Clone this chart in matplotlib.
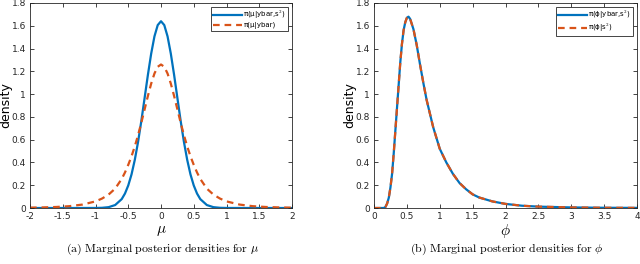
import numpy as np
import matplotlib
matplotlib.use("Agg")
import matplotlib.pyplot as plt

plt.rcParams["mathtext.fontset"] = "cm"

BLUE = "#0072BD"
RED  = "#D95319"
GREY = "#262626"

# ── (a) marginal posterior for mu ────────────────────────────────────────────
mu_x = [-2.0, -1.8, -1.6, -1.4, -1.2, -1.0, -0.9, -0.8, -0.7, -0.6, -0.55,
        -0.5, -0.45, -0.4, -0.35, -0.3, -0.25, -0.2, -0.15, -0.1, -0.05, 0.0,
        0.05, 0.1, 0.15, 0.2, 0.25, 0.3, 0.35, 0.4, 0.45, 0.5,
        0.55, 0.6, 0.7, 0.8, 0.9, 1.0, 1.2, 1.4, 1.6, 1.8, 2.0]
mu_full = [0.0, 0.0, 0.0, 0.0, 0.0001, 0.0003, 0.0017, 0.0073, 0.026, 0.078, 0.127,
           0.198, 0.295, 0.423, 0.581, 0.765, 0.967, 1.169, 1.355, 1.507, 1.606, 1.64,
           1.606, 1.507, 1.355, 1.169, 0.967, 0.765, 0.581, 0.423, 0.295, 0.198,
           0.127, 0.078, 0.026, 0.0073, 0.0017, 0.0003, 0.0001, 0.0, 0.0, 0.0, 0.0]
mu_ybar = [0.003, 0.005, 0.009, 0.016, 0.030, 0.058, 0.083, 0.118, 0.170, 0.255, 0.312,
           0.379, 0.454, 0.541, 0.640, 0.750, 0.867, 0.984, 1.092, 1.181, 1.240, 1.26,
           1.240, 1.181, 1.092, 0.984, 0.867, 0.750, 0.640, 0.541, 0.454, 0.379,
           0.312, 0.255, 0.170, 0.118, 0.083, 0.058, 0.030, 0.016, 0.009, 0.005, 0.003]

# ── (b) marginal posterior for phi ───────────────────────────────────────────
phi_x = [0.0, 0.1, 0.15, 0.175, 0.2, 0.225, 0.25, 0.275, 0.3, 0.325, 0.35,
         0.375, 0.4, 0.425, 0.45, 0.475, 0.5, 0.525, 0.55, 0.6, 0.65, 0.7,
         0.75, 0.8, 0.9, 1.0, 1.1, 1.2, 1.3, 1.4, 1.5, 1.6, 1.8, 2.0,
         2.25, 2.5, 3.0, 3.5, 4.0]
phi_full = [0.0, 0.0, 0.0, 0.01, 0.04, 0.09, 0.18, 0.30, 0.48, 0.68, 0.88,
            1.08, 1.28, 1.44, 1.56, 1.63, 1.67, 1.68, 1.66, 1.57, 1.43, 1.26,
            1.10, 0.95, 0.71, 0.52, 0.40, 0.30, 0.22, 0.165, 0.12, 0.092, 0.058, 0.036,
            0.020, 0.012, 0.005, 0.002, 0.001]
phi_s2 = [0.0, 0.0, 0.0, 0.01, 0.04, 0.09, 0.18, 0.30, 0.48, 0.68, 0.88,
          1.08, 1.28, 1.44, 1.56, 1.63, 1.67, 1.68, 1.66, 1.57, 1.43, 1.26,
          1.10, 0.95, 0.71, 0.52, 0.40, 0.30, 0.22, 0.165, 0.12, 0.092, 0.058, 0.036,
          0.020, 0.012, 0.005, 0.002, 0.001]

fig = plt.figure(figsize=(6.4, 2.64), dpi=100)
ax1 = fig.add_axes([30 / 640, 56 / 264, 262 / 640, 205 / 264])
ax2 = fig.add_axes([374 / 640, 56 / 264, 263 / 640, 205 / 264])


def style(ax, xlim, xticks, xticklabels):
    ax.set_xlim(xlim)
    ax.set_ylim(0, 1.8)
    ax.set_xticks(xticks)
    ax.set_xticklabels(xticklabels)
    ax.set_yticks(np.arange(0, 1.81, 0.2))
    ax.set_yticklabels(["0", "0.2", "0.4", "0.6", "0.8", "1", "1.2", "1.4", "1.6", "1.8"])
    ax.tick_params(direction="in", top=True, right=True, length=3, width=0.6,
                   labelsize=6.5, colors=GREY, pad=3)
    for sp in ax.spines.values():
        sp.set_color(GREY)
        sp.set_linewidth(0.6)
    ax.set_ylabel("density", fontsize=9, color="black")
    ax.yaxis.set_label_coords(-0.068, 0.5)


ax1.plot(mu_x, mu_full, color=BLUE, lw=1.6, label=r"π(μ|ybar,s$^2$)")
ax1.plot(mu_x, mu_ybar, color=RED, lw=1.6, ls=(0, (3, 2.2)), label="π(μ|ybar)")
style(ax1, (-2, 2), np.arange(-2, 2.01, 0.5),
      ["-2", "-1.5", "-1", "-0.5", "0", "0.5", "1", "1.5", "2"])

ax2.plot(phi_x, phi_full, color=BLUE, lw=1.6, label=r"π(ϕ|ybar,s$^2$)")
ax2.plot(phi_x, phi_s2, color=RED, lw=1.6, ls=(0, (3, 2.2)), label=r"π(ϕ|s$^2$)")
style(ax2, (0, 4), np.arange(0, 4.01, 0.5),
      ["0", "0.5", "1", "1.5", "2", "2.5", "3", "3.5", "4"])

for ax in (ax1, ax2):
    leg = ax.legend(loc="upper right", fontsize=5, frameon=True, fancybox=False,
                    framealpha=1, edgecolor=GREY, borderpad=0.25, handlelength=4.2,
                    handletextpad=0.2, labelspacing=0.15, borderaxespad=0.6)
    leg.get_frame().set_linewidth(0.6)

fig.text(161 / 640, 1 - 231 / 264, r"$\mu$", fontsize=11, ha="center", va="center")
fig.text(505 / 640, 1 - 231 / 264, r"$\phi$", fontsize=11, ha="center", va="center")

fig.text(162 / 640, 1 - 249 / 264,
         r"$\mathrm{(a)\ Marginal\ posterior\ densities\ for}\ \mu$",
         fontsize=8.6, ha="center", va="center")
fig.text(507 / 640, 1 - 249 / 264,
         r"$\mathrm{(b)\ Marginal\ posterior\ densities\ for}\ \phi$",
         fontsize=8.6, ha="center", va="center")

fig.savefig("out.png", dpi=100)
